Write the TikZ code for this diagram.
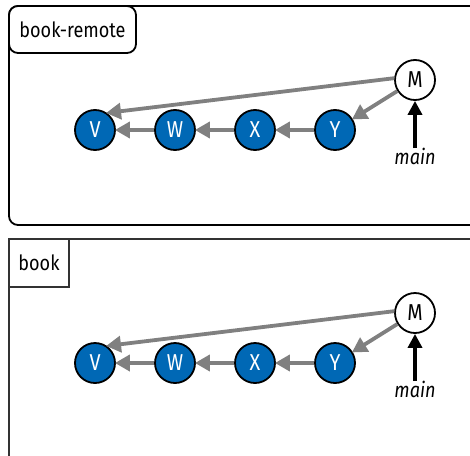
\documentclass[tikz,border=0pt]{standalone}
\usepackage{fontspec}
\setmainfont{Fira Sans}[FakeStretch=0.86]
\usetikzlibrary{arrows.meta}

\definecolor{commitblue}{HTML}{0068B5}
\definecolor{ptrgray}{HTML}{808080}

\tikzset{
  commit/.style={circle, draw=black, line width=1.8pt, fill=commitblue, text=white,
    minimum size=40pt, inner sep=0pt, font=\fontsize{23}{23}\selectfont},
  merge/.style={commit, fill=white, text=black},
  parent/.style={draw=ptrgray, line width=3.8pt, -{Triangle[length=15pt,width=16pt]}, shorten >=-1pt},
  ref/.style={draw=black, line width=3.6pt, -{Triangle[length=14pt,width=14pt]}, shorten <=-4pt},
  reflabel/.style={font=\fontsize{21}{21}\selectfont\itshape},
  tag/.style={font=\fontsize{21}{21}\selectfont}
}

\begin{document}
\begin{tikzpicture}[x=1pt,y=-1pt]
    \useasboundingbox (0,0) rectangle (470,455);
    \clip (0,0) rectangle (470,455);

    % Frames
    \draw[line width=1.8pt, rounded corners=9pt] (9,6) rectangle (500,225);
    \draw[line width=1.8pt, rounded corners=9pt, fill=white] (9,6) rectangle (136,53);
    \node[tag] (remotetag) at (72.5,29.5) {book-remote};
    \draw[line width=1.8pt, draw=black!80] (9,239) rectangle (500,480);
    \draw[line width=1.8pt, draw=black!80, fill=white] (9,239) rectangle (69,287);
    \node[tag] (booktag) at (39,263) {book};

    % Nodes (book-remote)
    \node[commit] (rV) at (95,130) {V};
    \node[commit] (rW) at (175,130) {W};
    \node[commit] (rX) at (255,130) {X};
    \node[commit] (rY) at (335,130) {Y};
    \node[merge] (rM) at (415,80) {M};
    \node[reflabel] (rmain) at (415,156) {main};

    % Arrows (book-remote)
    \draw[parent] (rY) -- (rX);
    \draw[parent] (rX) -- (rW);
    \draw[parent] (rW) -- (rV);
    \draw[parent] (rM) -- (rY);
    \draw[parent] (rM.175) -- (rV.55);
    \draw[ref] (rmain.north) -- (rM);

    % Nodes (book)
    \node[commit] (bV) at (95,363) {V};
    \node[commit] (bW) at (175,363) {W};
    \node[commit] (bX) at (255,363) {X};
    \node[commit] (bY) at (335,363) {Y};
    \node[merge] (bM) at (415,313) {M};
    \node[reflabel] (bmain) at (415,389) {main};

    % Arrows (book)
    \draw[parent] (bY) -- (bX);
    \draw[parent] (bX) -- (bW);
    \draw[parent] (bW) -- (bV);
    \draw[parent] (bM) -- (bY);
    \draw[parent] (bM.175) -- (bV.55);
    \draw[ref] (bmain.north) -- (bM);
\end{tikzpicture}
\end{document}
